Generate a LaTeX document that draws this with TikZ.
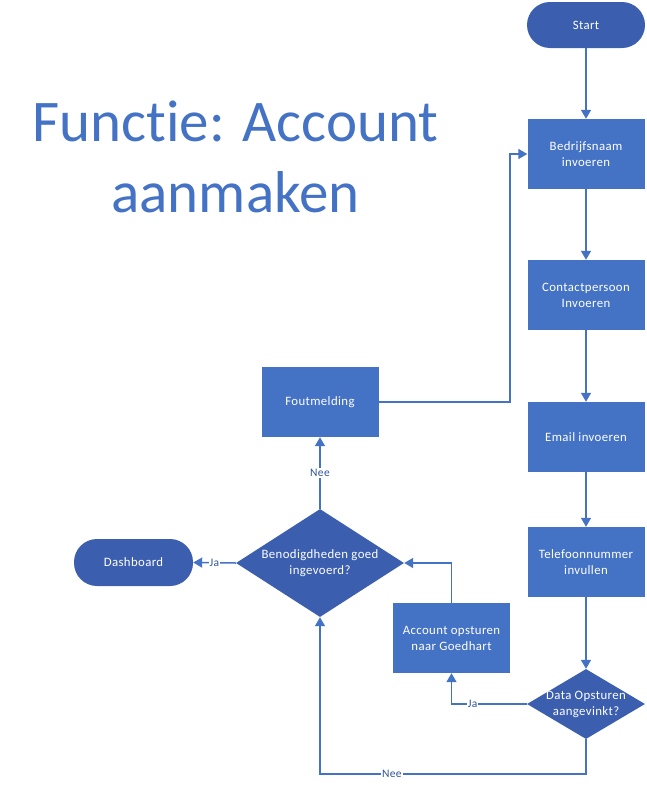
\documentclass[tikz,border=0pt]{standalone}
\usepackage{fontspec}
\setmainfont{Carlito}[Ligatures=NoCommon]
\newfontfamily\boxfont{Carlito}[Ligatures=NoCommon, LetterSpace=3]
\usetikzlibrary{shapes.geometric,arrows.meta}
\definecolor{rectblue}{HTML}{4472C4}
\definecolor{darkblue}{HTML}{3B5EAE}
\definecolor{lineblue}{HTML}{4472C4}
\definecolor{lblblue}{HTML}{2F5597}
\tikzset{
  txt/.style={text=white, font=\boxfont\fontsize{12.8}{16}\selectfont, align=center},
  procbox/.style={draw=none, fill=rectblue, minimum width=117pt, minimum height=70pt, inner sep=0pt, txt},
  termbox/.style={draw=none, fill=darkblue, rounded corners=23pt, minimum width=118pt, minimum height=46pt, inner sep=0pt, txt},
  decbox/.style={shape=diamond, draw=none, fill=darkblue, inner sep=0pt},
  arr/.style={draw=lineblue, line width=1.5pt, -{Triangle[width=10pt,length=9pt]}},
  lbl/.style={fill=white, text=lblblue, inner sep=1pt, font=\boxfont\fontsize{11.5}{13}\selectfont},
}
\begin{document}
\begin{tikzpicture}[x=1pt,y=-1pt]
\useasboundingbox (0,0) rectangle (647,790);
\node[text=rectblue, font=\fontsize{59}{71}\selectfont, align=center] (title) at (235.5,157) {Functie: Account\\aanmaken};
\node[termbox] (start) at (586,25) {Start};
\node[procbox] (b1) at (586,154) {Bedrijfsnaam\\invoeren};
\node[procbox] (b2) at (586,295) {Contactpersoon\\Invoeren};
\node[procbox] (b3) at (586,437) {Email invoeren};
\node[procbox] (b4) at (586,562) {Telefoonnummer\\invullen};
\node[decbox, minimum width=118pt, minimum height=70pt, label={[txt]center:Data Opsturen\\aangevinkt?}] (q2) at (586,704) {};
\node[procbox] (acc) at (451.5,638) {Account opsturen\\naar Goedhart};
\node[decbox, minimum width=168pt, minimum height=108pt, label={[txt]center:Benodigdheden goed\\ingevoerd?}] (q1) at (320,563) {};
\node[termbox, minimum width=119pt, minimum height=47pt] (dash) at (133.5,562.5) {Dashboard};
\node[procbox] (fout) at (320,402) {Foutmelding};
\coordinate (c1) at (586,774);
\coordinate (c2) at (320,774);
\coordinate (c3) at (510,402);
\draw[arr] (start) -- (b1);
\draw[arr] (b1) -- (b2);
\draw[arr] (b2) -- (b3);
\draw[arr] (b3) -- (b4);
\draw[arr] (b4) -- (q2);
\draw[arr] (q2.west) -| node[lbl, pos=0.36] {Ja} (acc.south);
\draw[arr] (q2.south) -- (c1) -- node[lbl, pos=0.73] {Nee} (c2) -- (q1.south);
\draw[arr] (acc.north) |- (q1.east);
\draw[arr] (q1.west) -- node[lbl] {Ja} (dash.east);
\draw[arr] (q1.north) -- node[lbl] {Nee} (fout.south);
\draw[arr] (fout.east) -- (c3) |- (b1.west);
\end{tikzpicture}
\end{document}
